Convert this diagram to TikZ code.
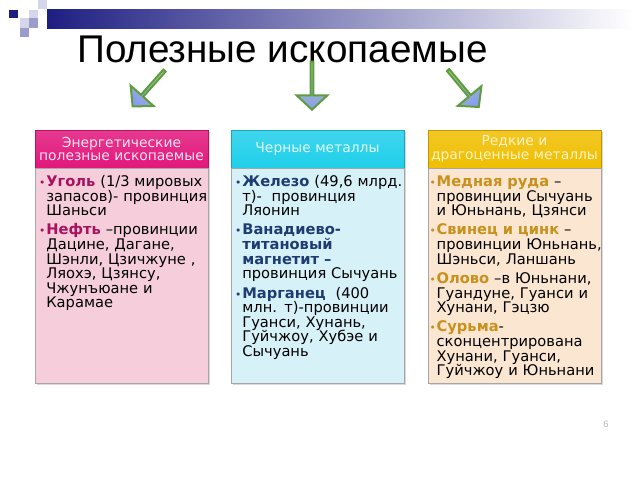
\documentclass[tikz,border=0pt]{standalone}
\usepackage{fontspec}
\setmainfont{Liberation Sans}
\newfontfamily\boxfont{DejaVu Sans}
\usetikzlibrary{calc,positioning,shapes.arrows,shadows}

\definecolor{barnavy}{HTML}{1E1E82}
\definecolor{sqlight}{HTML}{D6D6EA}
\definecolor{sqmid}{HTML}{9C9CCC}
\definecolor{arrgreen}{HTML}{5E9C3E}
\definecolor{arrgreenlt}{HTML}{A6D48A}
\definecolor{arrblue}{HTML}{8A9DF2}
\definecolor{magHd}{HTML}{E2177C}
\definecolor{magTx}{HTML}{A8125E}
\definecolor{magBd}{HTML}{F6CEDB}
\definecolor{magHdTx}{HTML}{FCE4F0}
\definecolor{cyHd}{HTML}{1FCFEA}
\definecolor{cyTx}{HTML}{1F3C72}
\definecolor{cyBd}{HTML}{D6F1F8}
\definecolor{cyHdTx}{HTML}{E2F9FD}
\definecolor{auHd}{HTML}{F0BE00}
\definecolor{auTx}{HTML}{C8901C}
\definecolor{auBd}{HTML}{FBE7D1}
\definecolor{auHdTx}{HTML}{FFF4C8}

\newcommand\bitem[3]{\par\noindent\llap{\textcolor{#1}{\fontsize{8}{8}\selectfont•}\hspace{0.6pt}}\textcolor{#1}{\textbf{#2}}#3\par}

\begin{document}
\begin{tikzpicture}[x=0.75pt,y=-0.75pt,
    hdr/.style={draw=#1!80!black, top color=#1!85!white, bottom color=#1,
      minimum width=129.75pt, minimum height=28.5pt, inner sep=0pt, align=center,
      drop shadow={shadow xshift=1.2pt, shadow yshift=-1.2pt, opacity=0.3},
      font=\boxfont\fontsize{10.4}{10}\selectfont},
    bodybox/.style={draw=gray!70, fill=#1, minimum width=129.75pt, minimum height=161.25pt,
      anchor=north west, inner sep=0pt,
      drop shadow={shadow xshift=1.2pt, shadow yshift=-1.2pt, opacity=0.3}},
    btext/.style={anchor=north west, text width=135pt, align=left, inner sep=0pt,
      font=\boxfont\fontsize{11}{10.95}\selectfont},
    blockarr/.style={single arrow, draw=arrgreen, line width=1.5pt,
      top color=arrgreenlt, bottom color=arrblue, inner sep=0pt,
      minimum height=36pt, minimum width=23pt,
      single arrow head extend=7pt, single arrow tip angle=94}]
\useasboundingbox (0,0) rectangle (640,480);

%%%%% decoration %%%%%
\fill[barnavy] (9,10) rectangle (18,18);
\fill[sqlight] (29,10) rectangle (38,18);
\fill[sqlight] (38,0) rectangle (47,9);
\fill[sqlight] (20,18) rectangle (29,28);
\fill[sqmid] (29,18) rectangle (38,28);
\fill[sqmid] (20,28) rectangle (29,37);
\shade[left color=barnavy, middle color=barnavy!55!white, right color=white] (47,9) rectangle (632,28);

%%%%% title %%%%%
\node[anchor=base west, inner sep=0pt, font=\fontsize{29}{29}\selectfont] (title) at (77,62) {Полезные ископаемые};

\node[blockarr, rotate=-131.6, shading angle=-41.6] (arEnergy) at (149,88) {};
\node[blockarr, rotate=-90] (arFerrous) at (312,85) {};
\node[blockarr, rotate=-50.2, shading angle=39.8] (arRare) at (463,88) {};

%%%%% boxes %%%%%
\node[hdr=magHd, text=magHdTx] (hdEnergy) at (121.5,149) {Энергетические\\полезные ископаемые};
\node[hdr=cyHd, text=cyHdTx] (hdFerrous) at (317.5,149) {Черные металлы};
\node[hdr=auHd, text=auHdTx] (hdRare) at (514.5,149) {Редкие и\\драгоценные металлы};

\node[bodybox=magBd] (bdEnergy) at (hdEnergy.south west) {};
\node[bodybox=cyBd] (bdFerrous) at (hdFerrous.south west) {};
\node[bodybox=auBd] (bdRare) at (hdRare.south west) {};

\node[btext] (txEnergy) at ([xshift=8.5pt,yshift=1pt]bdEnergy.north west) {\setlength\parskip{3.5pt}%
  \bitem{magTx}{Уголь}{ (1/3 мировых\newline запасов)- провинция\newline Шаньси}
  \bitem{magTx}{Нефть}{ –провинции\newline Дацине, Дагане,\newline Шэнли, Цзичжуне ,\newline Ляохэ, Цзянсу,\newline Чжунъюане и\newline Карамае}};

\node[btext] (txFerrous) at ([xshift=8.5pt,yshift=1pt]bdFerrous.north west) {\setlength\parskip{3.5pt}%
  \bitem{cyTx}{Железо}{ (49,6 млрд.\newline т)-\ \ провинция\newline Ляонин}
  \bitem{cyTx}{Ванадиево-\newline титановый\newline магнетит –}{\newline провинция Сычуань}
  \bitem{cyTx}{Марганец}{\ \ (400\newline млн. т)-провинции\newline Гуанси, Хунань,\newline Гуйчжоу, Хубэе и\newline Сычуань}};

\node[btext] (txRare) at ([xshift=6.5pt,yshift=1pt]bdRare.north west) {\setlength\parskip{3.5pt}%
  \bitem{auTx}{Медная руда}{ –\newline провинции Сычуань\newline и Юньнань, Цзянси}
  \bitem{auTx}{Свинец и цинк}{ –\newline провинции Юньнань,\newline Шэньси, Ланшань}
  \bitem{auTx}{Олово}{ –в Юньнани,\newline Гуандуне, Гуанси и\newline Хунани, Гэцзю}
  \bitem{auTx}{Сурьма}{-\newline сконцентрирована\newline Хунани, Гуанси,\newline Гуйчжоу и Юньнани}};

\node[font=\fontsize{7}{7}\selectfont, text=gray!55] (pgnum) at (606,424) {6};
\end{tikzpicture}
\end{document}
